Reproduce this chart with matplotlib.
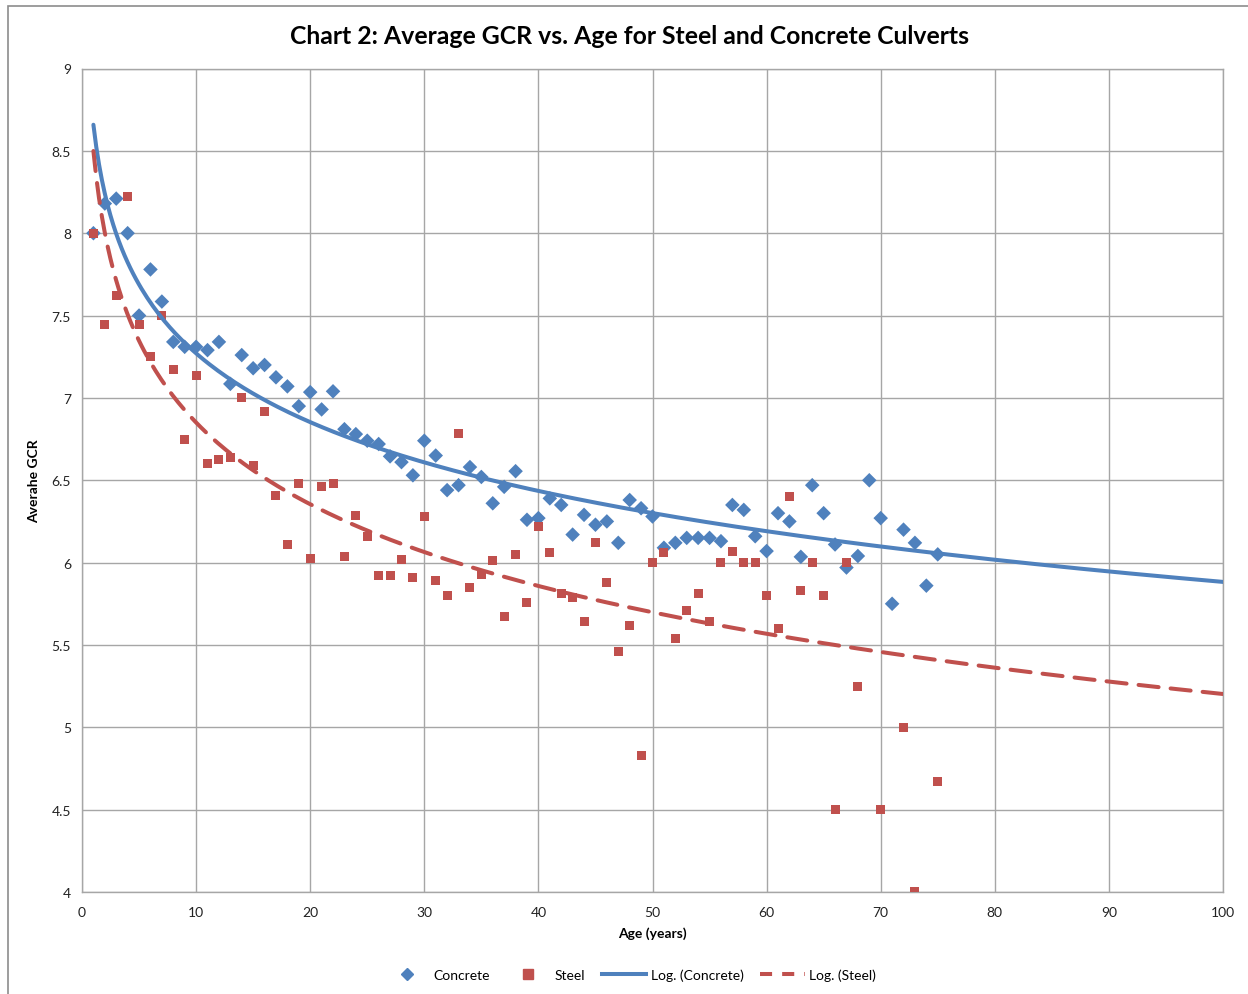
import numpy as np
import matplotlib
matplotlib.use("Agg")
import matplotlib.pyplot as plt
from matplotlib.patches import Rectangle
from matplotlib.lines import Line2D

# ---- data ----
concrete_age = list(range(1, 76))
concrete_gcr = [8.00, 8.18, 8.21, 8.00, 7.50, 7.78, 7.585, 7.34, 7.31, 7.31,
                7.29, 7.34, 7.085, 7.26, 7.18, 7.20, 7.125, 7.07, 6.95, 7.035,
                6.93, 7.04, 6.81, 6.78, 6.74, 6.72, 6.645, 6.61, 6.53, 6.74,
                6.65, 6.44, 6.47, 6.58, 6.52, 6.36, 6.46, 6.555, 6.26, 6.27,
                6.39, 6.35, 6.17, 6.29, 6.23, 6.25, 6.12, 6.38, 6.33, 6.28,
                6.09, 6.12, 6.15, 6.15, 6.15, 6.13, 6.35, 6.32, 6.16, 6.07,
                6.30, 6.25, 6.035, 6.47, 6.30, 6.11, 5.97, 6.04, 6.50, 6.27,
                5.75, 6.20, 6.12, 5.86, 6.05]

steel_age = [1, 2, 3, 4, 5, 6, 7, 8, 9, 10,
             11, 12, 13, 14, 15, 16, 17, 18, 19, 20,
             21, 22, 23, 24, 25, 26, 27, 28, 29, 30,
             31, 32, 33, 34, 35, 36, 37, 38, 39, 40,
             41, 42, 43, 44, 45, 46, 47, 48, 49, 50,
             51, 52, 53, 54, 55, 56, 57, 58, 59, 60,
             61, 62, 63, 64, 65, 66, 67, 68, 70, 72, 73, 75]
steel_gcr = [8.00, 7.445, 7.62, 8.22, 7.445, 7.25, 7.50, 7.17, 6.75, 7.135,
             6.60, 6.625, 6.64, 7.00, 6.59, 6.92, 6.41, 6.11, 6.48, 6.025,
             6.465, 6.48, 6.035, 6.285, 6.16, 5.92, 5.92, 6.02, 5.91, 6.28,
             5.89, 5.80, 6.785, 5.85, 5.93, 6.01, 5.67, 6.05, 5.76, 6.22,
             6.06, 5.81, 5.79, 5.64, 6.12, 5.88, 5.46, 5.62, 4.83, 6.00,
             6.06, 5.54, 5.71, 5.81, 5.64, 6.00, 6.07, 6.00, 6.00, 5.80,
             5.60, 6.40, 5.83, 6.00, 5.80, 4.50, 6.00, 5.25, 4.50, 5.00, 4.00, 4.67]

x_ticks = [0, 10, 20, 30, 40, 50, 60, 70, 80, 90, 100]
y_ticks = [4, 4.5, 5, 5.5, 6, 6.5, 7, 7.5, 8, 8.5, 9]
y_tick_labels = ["4", "4.5", "5", "5.5", "6", "6.5", "7", "7.5", "8", "8.5", "9"]

title = "Chart 2: Average GCR vs. Age for Steel and Concrete Culverts"
x_label = "Age (years)"
y_label = "Averahe GCR"

BLUE = "#4F81BD"
RED = "#C0504D"
GRID = "#A6A6A6"

plt.rcParams['font.family'] = ['Lato', 'DejaVu Sans']

W, H = 1248, 995
fig = plt.figure(figsize=(W / 100, H / 100), dpi=100)
fig.patch.set_facecolor("white")

# chart-area border (extends beyond right/bottom edge as in the reference)
fig.patches.append(Rectangle((8 / W, -0.05), 1.2, 1 - 6.5 / H + 0.05,
                             transform=fig.transFigure, fill=False,
                             edgecolor="#8C8C8C", linewidth=1.2))

left, right, top, bottom = 82, 1223, 69.5, 893
ax = fig.add_axes([left / W, 1 - bottom / H, (right - left) / W, (bottom - top) / H])

ax.set_xlim(0, 100)
ax.set_ylim(4, 9)
ax.set_xticks(x_ticks)
ax.set_yticks(y_ticks)
ax.set_yticklabels(y_tick_labels)
ax.grid(True, color=GRID, linewidth=1.0)
ax.set_axisbelow(True)
for s in ax.spines.values():
    s.set_color(GRID)
    s.set_linewidth(1.0)
ax.tick_params(length=0, labelsize=10, colors="#222222", pad=8)
ax.tick_params(axis='x', pad=10)

# scatter points
ax.scatter(concrete_age, concrete_gcr, marker="D", s=55, color=BLUE,
           edgecolors="none", zorder=3, label="Concrete")
ax.scatter(steel_age, steel_gcr, marker="s", s=42, color=RED,
           edgecolors="none", zorder=3, label="Steel")

# logarithmic trend lines (least squares on ln(x), as Excel does)
xc = np.linspace(1, 100, 400)
a_c, b_c = np.polyfit(np.log(concrete_age), concrete_gcr, 1)
a_s, b_s = np.polyfit(np.log(steel_age), steel_gcr, 1)
ax.plot(xc, a_c * np.log(xc) + b_c, color=BLUE, linewidth=2.9,
        solid_capstyle="round", zorder=4, label="Log. (Concrete)")
ax.plot(xc, a_s * np.log(xc) + b_s, color=RED, linewidth=2.9,
        dashes=(5, 3), dash_capstyle="round", zorder=4, label="Log. (Steel)")

ax.set_xlabel(x_label, fontsize=10, fontweight="bold", labelpad=6)
ax.set_ylabel(y_label, fontsize=10, fontweight="bold", labelpad=8)

fig.text(630 / W, 1 - 36 / H, title, ha="center", va="center",
         fontsize=17.8, fontweight="bold", color="black")

handles = [
    Line2D([], [], marker="D", color=BLUE, linestyle="none", markersize=6),
    Line2D([], [], marker="s", color=RED, linestyle="none", markersize=6.5),
    Line2D([], [], color=BLUE, linewidth=2.9),
    Line2D([], [], color=RED, linewidth=2.9, dashes=(3, 2.5)),
]
labels = ["Concrete", "Steel", "Log. (Concrete)", "Log. (Steel)"]
fig.legend(handles, labels, loc="center", bbox_to_anchor=(630 / W, 1 - 976 / H),
           ncol=4, frameon=False, fontsize=10, handlelength=3.2,
           columnspacing=1.2, handletextpad=0.3)

fig.savefig("out.png", dpi=100, facecolor="white")
